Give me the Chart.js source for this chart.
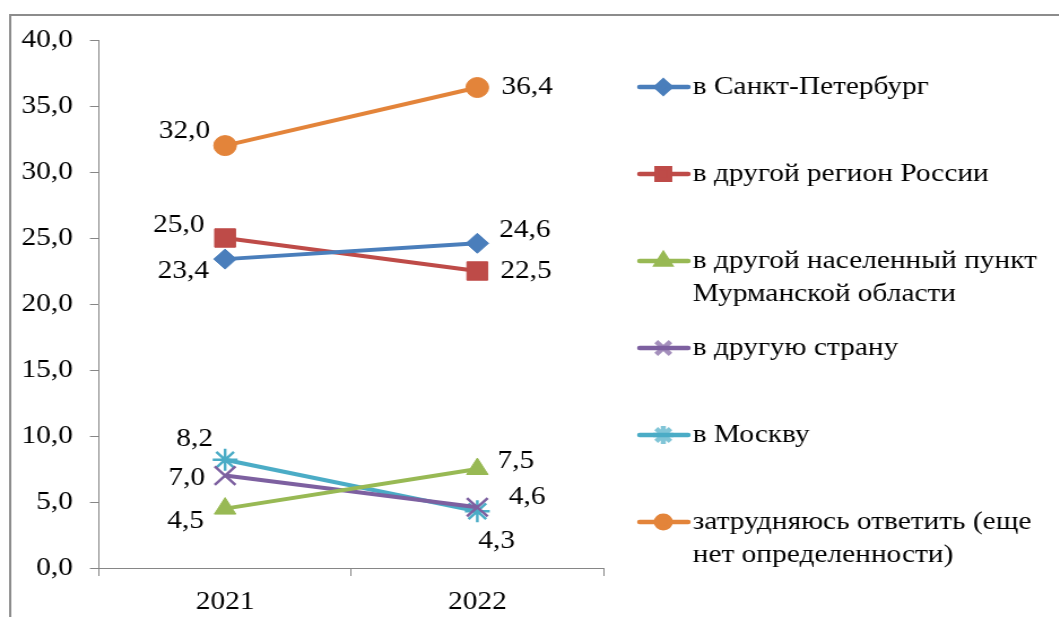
<!DOCTYPE html>
<html>
<head>
<meta charset="utf-8">
<script src="https://cdn.jsdelivr.net/npm/chart.js@4/dist/chart.umd.min.js"></script>
<style>
  html, body { margin: 0; padding: 0; background: #fff; overflow: hidden; }
  #wrap { width: 937px; height: 617px; transform: scaleX(1.13); transform-origin: 0 0; }
</style>
</head>
<body>
<div id="wrap"><canvas id="chart" width="937" height="617"></canvas></div>
<script>
const categories = ['2021', '2022'];
const seriesNames = [
  'в Санкт-Петербург',
  'в другой регион России',
  'в другой населенный пункт\nМурманской области',
  'в другую страну',
  'в Москву',
  'затрудняюсь ответить (еще\nнет определенности)'
];
const spb = [23.4, 24.6];
const otherRegion = [25.0, 22.5];
const murmansk = [4.5, 7.5];
const abroad = [7.0, 4.6];
const moscow = [8.2, 4.3];
const undecided = [32.0, 36.4];
const yTicks = [0, 5, 10, 15, 20, 25, 30, 35, 40];

const colors = ['#4A7EBB', '#BE4B48', '#98B954', '#7D60A0', '#4BACC6', '#E3843A'];
const styles = ['rectRot', 'rect', 'triangle', 'crossRot', 'star', 'circle'];
const radii = [10, 13, 11, 13, 11, 10];
// label offsets from the point (unscaled px), per series / per year
const labelOffsets = [
  [[-37, 12], [42, -13]],
  [[-41, -13], [43, 0]],
  [[-35, 13], [34, -8]],
  [[-34, 3], [44, -10]],
  [[-27, -21], [17, 30]],
  [[-36, -14], [44, 0]]
];

const fmt = v => v.toFixed(1).replace('.', ',');
const family = "'Liberation Serif'";
const font = { family: family, size: 26 };
const fontStr = '26px ' + family;
const axisColor = '#868686';

const isCross = s => s === 'crossRot' || s === 'star';

const allSeries = [spb, otherRegion, murmansk, abroad, moscow, undecided];
const datasets = allSeries.map((vals, i) => ({
  label: seriesNames[i],
  data: vals,
  borderColor: colors[i],
  backgroundColor: colors[i],
  borderWidth: 4,
  pointStyle: styles[i],
  pointRadius: radii[i],
  pointBackgroundColor: colors[i],
  pointBorderColor: colors[i],
  pointBorderWidth: isCross(styles[i]) ? 2.5 : 1,
  tension: 0
}));

const dataLabels = {
  id: 'dataLabels',
  afterDatasetsDraw(chart) {
    const ctx = chart.ctx;
    ctx.save();
    ctx.font = fontStr;
    ctx.fillStyle = '#000';
    ctx.textAlign = 'center';
    ctx.textBaseline = 'middle';
    chart.data.datasets.forEach((ds, i) => {
      chart.getDatasetMeta(i).data.forEach((pt, j) => {
        const off = labelOffsets[i][j];
        ctx.fillText(fmt(ds.data[j]), pt.x + off[0], pt.y + off[1]);
      });
    });
    ctx.restore();
  }
};

const sideLegend = {
  id: 'sideLegend',
  afterDraw(chart) {
    const ctx = chart.ctx;
    ctx.save();
    // outer frame
    ctx.strokeStyle = '#8c8c8c';
    ctx.lineWidth = 2;
    ctx.strokeRect(9, 15, 1000, 700);
    ctx.font = fontStr;
    ctx.textAlign = 'left';
    ctx.textBaseline = 'middle';
    chart.data.datasets.forEach((ds, i) => {
      const y = 87 + i * 87;
      ctx.strokeStyle = ds.borderColor;
      ctx.lineWidth = 4.5;
      ctx.lineCap = 'round';
      ctx.beginPath();
      ctx.moveTo(566, y);
      ctx.lineTo(609, y);
      ctx.stroke();
      ctx.lineCap = 'butt';
      ctx.fillStyle = ds.borderColor;
      const cross = isCross(ds.pointStyle);
      if (cross) ctx.globalAlpha = 0.7;
      Chart.helpers.drawPoint(ctx, {
        pointStyle: ds.pointStyle,
        radius: cross ? 9 : ds.pointRadius * 0.62,
        borderWidth: cross ? 1 : 0.7,
        rotation: 0
      }, 587, y);
      ctx.globalAlpha = 1;
      ctx.fillStyle = '#000';
      ds.label.split('\n').forEach((line, k) => {
        ctx.fillText(line, 613, y + k * 33);
      });
    });
    ctx.restore();
  }
};

new Chart(document.getElementById('chart'), {
  type: 'line',
  data: { labels: categories, datasets: datasets },
  options: {
    responsive: false,
    animation: false,
    layout: { padding: { left: 10, right: 403, top: 40, bottom: 0 } },
    plugins: {
      legend: { display: false },
      tooltip: { enabled: false }
    },
    scales: {
      x: {
        offset: true,
        grid: { offset: true, drawOnChartArea: false, drawTicks: true, tickLength: 8, color: axisColor },
        border: { color: axisColor, width: 1 },
        ticks: { font: font, color: '#000', padding: 11 },
        afterFit(scale) { scale.height = 49; }
      },
      y: {
        min: 0,
        max: 40,
        afterBuildTicks(scale) { scale.ticks = yTicks.map(v => ({ value: v })); },
        grid: { drawOnChartArea: false, drawTicks: true, tickLength: 8, color: axisColor },
        border: { color: axisColor, width: 1 },
        ticks: { font: font, color: '#000', padding: 15, callback: v => fmt(v) },
        afterFit(scale) { scale.width = 77.6; }
      }
    }
  },
  plugins: [dataLabels, sideLegend]
});
</script>
</body>
</html>
